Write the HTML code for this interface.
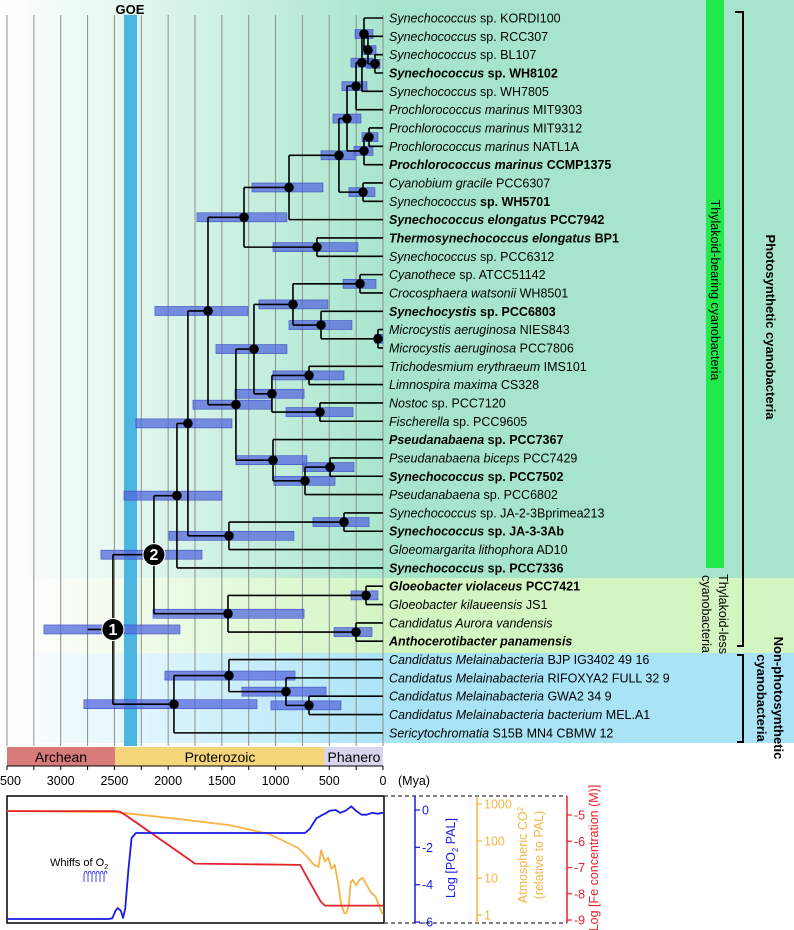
<!DOCTYPE html>
<html><head><meta charset="utf-8"><style>
html,body{margin:0;padding:0;background:#fff}
svg{display:block;font-family:"Liberation Sans",Arial,sans-serif}
</style></head><body>
<svg id="fig" width="794" height="930" viewBox="0 0 794 930" xmlns="http://www.w3.org/2000/svg">
<defs>
<linearGradient id="gTeal" x1="0" x2="1" y1="0" y2="0"><stop offset="0" stop-color="#ffffff"/><stop offset="0.5" stop-color="#a6e5cb"/><stop offset="1" stop-color="#a6e5cb"/></linearGradient>
<linearGradient id="gYel" x1="0" x2="1" y1="0" y2="0"><stop offset="0" stop-color="#ffffff"/><stop offset="0.5" stop-color="#d2f5c2"/><stop offset="1" stop-color="#d2f5c2"/></linearGradient>
<linearGradient id="gBlue" x1="0" x2="1" y1="0" y2="0"><stop offset="0" stop-color="#ffffff"/><stop offset="0.5" stop-color="#a9e3f6"/><stop offset="1" stop-color="#a9e3f6"/></linearGradient>
</defs>
<rect x="0" y="0" width="794" height="578" fill="url(#gTeal)"/>
<rect x="0" y="578" width="794" height="75" fill="url(#gYel)"/>
<rect x="0" y="653" width="794" height="90" fill="url(#gBlue)"/>
<g id="grid"></g>
<rect x="124" y="15" width="13" height="731" fill="#4db5e2"/>
<text x="130" y="14" text-anchor="middle" font-size="13" font-weight="bold">GOE</text>
<g id="bars"></g><g id="lines"></g><g id="dots"></g><g id="labels"></g>
<rect x="706" y="0" width="18" height="568" fill="#22e84a"/>
<text transform="translate(711,290) rotate(90)" text-anchor="middle" font-size="12.5">Thylakoid-bearing cyanobacteria</text>
<text transform="translate(719,614) rotate(90)" text-anchor="middle" font-size="12.5">Thylakoid-less</text>
<text transform="translate(702,614) rotate(90)" text-anchor="middle" font-size="12.5">cyanobacteria</text>
<path d="M735,12 H743 V646 H737" fill="none" stroke="#000" stroke-width="2"/>
<path d="M737,655 H743 V742 H737" fill="none" stroke="#000" stroke-width="2"/>
<text transform="translate(766,327) rotate(90)" text-anchor="middle" font-size="13" font-weight="bold">Photosynthetic cyanobacteria</text>
<text transform="translate(774,698) rotate(90)" text-anchor="middle" font-size="13" font-weight="bold">Non-photosynthetic</text>
<text transform="translate(757,698) rotate(90)" text-anchor="middle" font-size="13" font-weight="bold">cyanobacteria</text>
<rect x="7" y="747" width="108" height="19" fill="#d97b7b"/>
<rect x="115" y="747" width="209" height="19" fill="#f5d57a"/>
<rect x="324" y="747" width="59" height="19" fill="#d9d5ef"/>
<text x="61" y="762" text-anchor="middle" font-size="14">Archean</text>
<text x="220" y="762" text-anchor="middle" font-size="14">Proterozoic</text>
<text x="354" y="762" text-anchor="middle" font-size="14">Phanero</text>
<line x1="7" y1="766" x2="383" y2="766" stroke="#000" stroke-width="1"/>
<g id="xticks"></g>
<text x="398" y="785" font-size="12.5">(Mya)</text>
<rect x="7" y="796" width="377" height="127" fill="none" stroke="#000" stroke-width="1.5"/>
<path d="M384,796 H567 M384,923 H567" stroke="#555" stroke-width="1.5" stroke-dasharray="4,3" fill="none"/>
<g id="curves"></g>
<g id="yaxes"></g>
<text x="50" y="866" font-size="11">Whiffs of O<tspan font-size="7" dy="3">2</tspan></text>
<g id="whiffs"></g>
<text transform="translate(455,858) rotate(-90)" text-anchor="middle" font-size="12.5" fill="#1a1ae6">Log [PO<tspan font-size="8" dy="3">2</tspan><tspan dy="-3"> PAL]</tspan></text>
<text transform="translate(527,855) rotate(-90)" text-anchor="middle" font-size="12.5" fill="#f5b445">Atmospheric CO<tspan font-size="8" dy="-4">2</tspan></text>
<text transform="translate(543,855) rotate(-90)" text-anchor="middle" font-size="12.5" fill="#f5b445">(relative to PAL)</text>
<text transform="translate(598,858) rotate(-90)" text-anchor="middle" font-size="12.5" fill="#e8202a">Log [Fe concentration (M)]</text>
</svg>
<script>
const leaves = [
 [["Synechococcus","i"],[" sp. KORDI100",""]],
 [["Synechococcus","i"],[" sp. RCC307",""]],
 [["Synechococcus","i"],[" sp. BL107",""]],
 [["Synechococcus","bi"],[" sp. WH8102","b"]],
 [["Synechococcus","i"],[" sp. WH7805",""]],
 [["Prochlorococcus marinus","i"],[" MIT9303",""]],
 [["Prochlorococcus marinus","i"],[" MIT9312",""]],
 [["Prochlorococcus marinus","i"],[" NATL1A",""]],
 [["Prochlorococcus marinus","bi"],[" CCMP1375","b"]],
 [["Cyanobium gracile","i"],[" PCC6307",""]],
 [["Synechococcus","i"],[" sp. WH5701","b"]],
 [["Synechococcus elongatus","bi"],[" PCC7942","b"]],
 [["Thermosynechococcus elongatus","bi"],[" BP1","b"]],
 [["Synechococcus","i"],[" sp. PCC6312",""]],
 [["Cyanothece","i"],[" sp. ATCC51142",""]],
 [["Crocosphaera watsonii","i"],[" WH8501",""]],
 [["Synechocystis","bi"],[" sp. PCC6803","b"]],
 [["Microcystis aeruginosa","i"],[" NIES843",""]],
 [["Microcystis aeruginosa","i"],[" PCC7806",""]],
 [["Trichodesmium erythraeum","i"],[" IMS101",""]],
 [["Limnospira maxima","i"],[" CS328",""]],
 [["Nostoc","i"],[" sp. PCC7120",""]],
 [["Fischerella","i"],[" sp. PCC9605",""]],
 [["Pseudanabaena","bi"],[" sp. PCC7367","b"]],
 [["Pseudanabaena biceps","i"],[" PCC7429",""]],
 [["Synechococcus","bi"],[" sp. PCC7502","b"]],
 [["Pseudanabaena","i"],[" sp. PCC6802",""]],
 [["Synechococcus","i"],[" sp. JA-2-3Bprimea213",""]],
 [["Synechococcus","bi"],[" sp. JA-3-3Ab","b"]],
 [["Gloeomargarita lithophora","i"],[" AD10",""]],
 [["Synechococcus","bi"],[" sp. PCC7336","b"]],
 [["Gloeobacter violaceus","bi"],[" PCC7421","b"]],
 [["Gloeobacter kilaueensis","i"],[" JS1",""]],
 [["Candidatus Aurora vandensis","i"]],
 [["Anthocerotibacter panamensis","bi"]],
 [["Candidatus Melainabacteria","i"],[" BJP IG3402 49 16",""]],
 [["Candidatus Melainabacteria","i"],[" RIFOXYA2 FULL 32 9",""]],
 [["Candidatus Melainabacteria","i"],[" GWA2 34 9",""]],
 [["Candidatus Melainabacteria bacterium","i"],[" MEL.A1",""]],
 [["Sericytochromatia","i"],[" S15B MN4 CBMW 12",""]]
];
const nodeIds = ["a1","a2","a3","a4","a5","p1","p2","a6","c1","a7","a8","t1","a9","c2","m1","m2","c3","t2","n1","t3","c4","q1","q2","q3","b1","a10","j1","j2","a11","a12","g1","g2","g3","n2","ma","mb","mc","md","root"];
const nodeChildren = [[2,3],[1,"a1"],[0,"a2"],["a3",4],["a4",5],[6,7],["p1",8],["a5","p2"],[9,10],["a6","c1"],["a7",11],[12,13],["a8","t1"],[14,15],[17,18],[16,"m1"],["c2","m2"],[19,20],[21,22],["t2","n1"],["c3","t3"],[24,25],["q1",26],[23,"q2"],["c4","q3"],["a9","b1"],[27,28],["j1",29],["a10","j2"],["a11",30],[31,32],[33,34],["g1","g2"],["a12","g3"],[37,38],[36,"ma"],[35,"mb"],["mc",39],["n2","md"]];
const nodeAges = [75,140,177,196,251,130,177,335,186,410,875,615,1294,214,47,577,838,689,587,1034,1201,493,726,1024,1369,1629,363,1434,1816,1918,158,251,1443,2132,689,903,1434,1946,2514];
const ciYoung = [28,65,93,93,149,47,93,205,75,260,559,233,894,65,0,289,512,363,279,735,894,270,447,708,1033,1257,130,829,1406,1499,47,102,735,1685,391,530,819,1173,1890];
const ciOld = [149,196,260,298,382,196,270,466,317,577,1220,1024,1732,372,75,875,1155,1024,903,1378,1555,745,1015,1369,1769,2123,652,1992,2300,2411,298,456,2141,2626,1043,1313,2030,2784,3156];
const timeTicks = [3500,3000,2500,2000,1500,1000,500,0];
const gridTimes = [3500,3250,3000,2750,2500,2250,2000,1750,1500,1250,1000,750,500,250,0];
const o2Times = [3500,2560,2520,2490,2470,2440,2420,2400,2370,2340,2300,2000,1500,1000,725,680,620,560,540,500,440,400,350,295,250,200,150,100,50,0];
const o2Vals = [-5.84,-5.84,-5.8,-5.4,-5.25,-5.4,-5.78,-5.3,-3.2,-1.5,-1.23,-1.23,-1.23,-1.23,-1.23,-1.0,-0.45,-0.25,-0.2,-0.05,0.0,-0.15,-0.05,0.2,-0.05,-0.25,-0.25,-0.15,-0.2,-0.15];
const feTimes = [3500,2500,2450,2380,1750,770,730,580,540,0];
const feVals = [-4.85,-4.85,-4.87,-5.05,-6.85,-6.9,-7.2,-8.3,-8.45,-8.45];
const co2Times = [3500,2500,2170,1800,1430,1060,790,700,640,600,575,540,510,480,450,420,390,360,340,320,300,280,250,220,190,150,110,70,30,0];
const co2Vals = [2.81,2.78,2.68,2.56,2.43,2.19,1.81,1.55,1.35,1.3,1.75,1.45,1.55,1.25,1.35,0.9,0.3,0.05,0.05,0.25,0.9,0.95,0.8,0.95,1.0,0.8,0.6,0.5,0.2,0.0];
const o2Ticks = [0,-2,-4,-6];
const co2Ticks = [3,2,1,0];
const co2TickLabels = ["1000","100","10","1"];
const feTicks = [-5,-6,-7,-8,-9];

const NS="http://www.w3.org/2000/svg";
function X(t){return 383 - t*(376/3500);}
function leafY(i){return 18 + i*18.33;}
function o2Y(v){return 810 - v*18.67;}
function feY(v){return 815 + (-5 - v)*26.25;}
function co2Y(v){return 915 - v*37;}
function mk(tag,attrs,parent){const e=document.createElementNS(NS,tag);for(const k in attrs)e.setAttribute(k,attrs[k]);parent.appendChild(e);return e;}
const $=id=>document.getElementById(id);

gridTimes.forEach(t=>{
  const l=mk("line",{x1:X(t),x2:X(t),y1:15,y2:746,stroke:"#8a8f8c","stroke-width":1},$("grid"));
  
  
});
gridTimes.forEach(t=>{
  const l=mk("line",{x1:X(t),x2:X(t),y1:766,y2:770,stroke:"#000","stroke-width":1},$("xticks"));
  
  
});
timeTicks.forEach(t=>{
  const tx=mk("text",{x:X(t),y:785,"text-anchor":"middle","font-size":12.5},$("xticks"));
  tx.textContent=t;
  
  
});

const pos={};
leaves.forEach((lf,i)=>{pos[i]={x:383,y:leafY(i)};});
nodeIds.forEach((id,k)=>{
  const ch=nodeChildren[k].map(c=>pos[c]);
  pos[id]={x:X(nodeAges[k]),y:ch.reduce((s,c)=>s+c.y,0)/ch.length,ch:ch};
});
nodeIds.forEach((id,k)=>{
  const p=pos[id];
  const b=mk("rect",{x:X(ciOld[k]),y:p.y-4.5,width:X(ciYoung[k])-X(ciOld[k]),height:9,fill:"#5468dc","fill-opacity":0.75,stroke:"#3a4cc0","stroke-width":0.6},$("bars"));
  
  
  let d="";
  const ys=p.ch.map(c=>c.y);
  d+=`M${p.x},${Math.min(...ys)}V${Math.max(...ys)}`;
  p.ch.forEach(c=>{d+=`M${p.x},${c.y}H${c.x}`;});
  const ln=mk("path",{d:d,stroke:"#000","stroke-width":1.6,fill:"none"},$("lines"));
  
  
  if(id!=="root"&&id!=="n2"){
    const c=mk("circle",{cx:p.x,cy:p.y,r:4.8,fill:"#000"},$("dots"));
    
    
  }
});
const rootP=pos["root"];
const stem=mk("path",{d:`M${X(2750)},${rootP.y}H${rootP.x}`,stroke:"#000","stroke-width":1.6,fill:"none"},$("lines"));


[["root","1"],["n2","2"]].forEach(([id,lab])=>{
  const p=pos[id];
  const c=mk("circle",{cx:p.x,cy:p.y,r:11,fill:"#000",stroke:"#fff","stroke-width":1},$("dots"));
  
  
  const t=mk("text",{x:p.x,y:p.y+5.5,"text-anchor":"middle","font-size":16,"font-weight":"bold",fill:"#fff"},$("dots"));
  t.textContent=lab;
  
  
});
leaves.forEach((lf,i)=>{
  const t=mk("text",{x:389,y:leafY(i)+4.5,"font-size":12.5},$("labels"));
  
  
  lf.forEach(([s,st])=>{
    const sp=mk("tspan",{},t);
    if(st.includes("i"))sp.setAttribute("font-style","italic");
    if(st.includes("b"))sp.setAttribute("font-weight","bold");
    sp.textContent=s;
  });
  t.setAttribute("xml:space","preserve");
});

function poly(times,vals,fy,color,name){
  const pts=times.map((t,i)=>`${X(t).toFixed(1)},${fy(vals[i]).toFixed(1)}`).join(" ");
  const p=mk("polyline",{points:pts,fill:"none",stroke:color,"stroke-width":1.8,"stroke-linejoin":"round"},$("curves"));
  
  
}
poly(co2Times,co2Vals,co2Y,"#f5b445","co2-curve");
poly(feTimes,feVals,feY,"#e8202a","fe-curve");
poly(o2Times,o2Vals,o2Y,"#1a1ae6","o2-curve");

function axis(x,ticks,labels,fy,color,name){
  const g=$("yaxes");
  const a=mk("line",{x1:x,x2:x,y1:796,y2:923,stroke:color,"stroke-width":1.5},g);
  
  
  ticks.forEach((v,i)=>{
    const y=fy(v);
    const tk=mk("line",{x1:x,x2:x+5,y1:y,y2:y,stroke:color,"stroke-width":1.2},g);
    
    
    const t=mk("text",{x:x+7,y:y+4.5,"font-size":12.5,fill:color},g);
    t.textContent=labels[i];
    
    
  });
}
axis(415,o2Ticks,o2Ticks.map(v=>v===0?"0":"-"+(-v)),o2Y,"#1a1ae6","o2");
axis(477,co2Ticks,co2TickLabels,co2Y,"#f5b445","co2");
axis(567,feTicks,feTicks.map(v=>"-"+(-v)),feY,"#e8202a","fe");
for(let i=0;i<6;i++){
  const x=84+i*4;
  const p=mk("path",{d:`M${x},882 L${x},876 C${x},870 ${x+3},870 ${x+3},874`,fill:"none",stroke:"#1a1ae6","stroke-width":0.8},$("whiffs"));
  
  
}
</script>
</body></html>
